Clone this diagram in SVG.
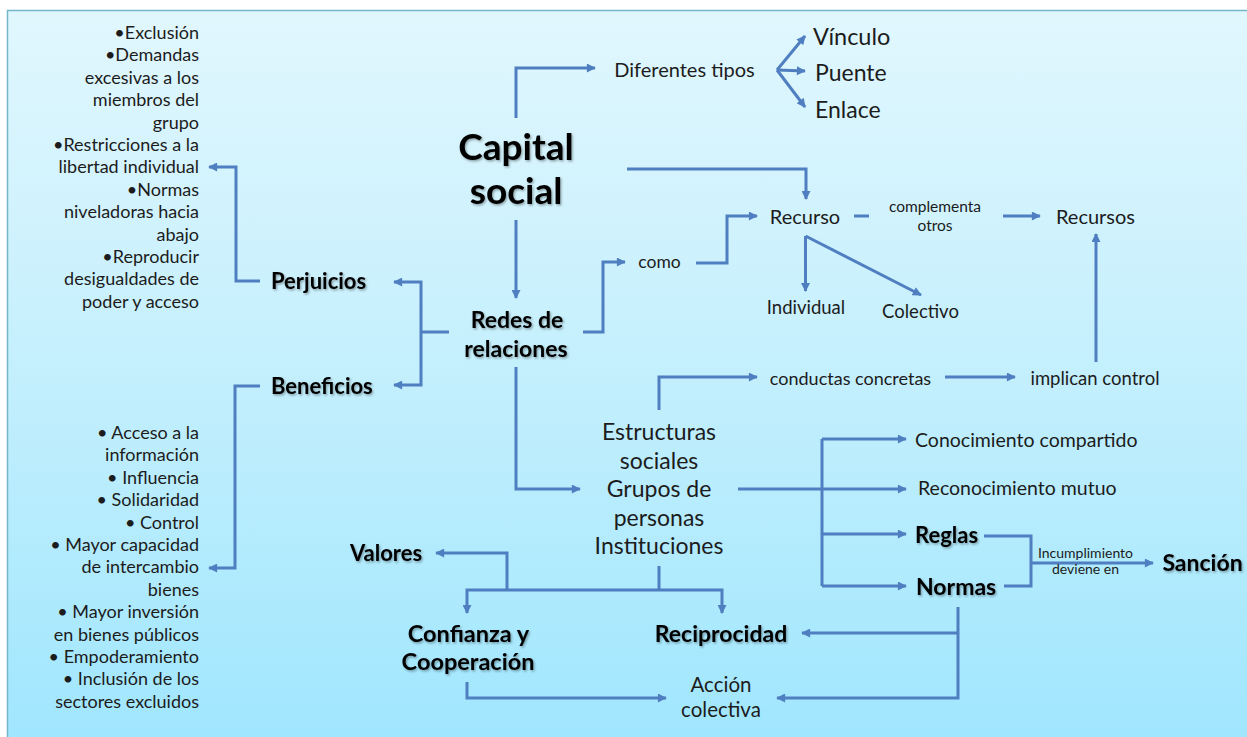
<svg xmlns="http://www.w3.org/2000/svg" width="1247" height="737" viewBox="0 0 1247 737">
<defs>
<linearGradient id="bg" x1="0" y1="0" x2="0" y2="1">
<stop offset="0" stop-color="#e1f7fe"/>
<stop offset="0.5" stop-color="#c3effd"/>
<stop offset="1" stop-color="#9fe6fe"/>
</linearGradient>
<marker id="ah" viewBox="0 0 10 10" refX="9" refY="5" markerWidth="10" markerHeight="9" markerUnits="userSpaceOnUse" orient="auto">
<path d="M0,0 L10,5 L0,10 Z" fill="#4f7fc0"/>
</marker>
<filter id="sh" x="-10%" y="-20%" width="130%" height="150%">
<feDropShadow dx="1.2" dy="1.5" stdDeviation="0.9" flood-color="#000" flood-opacity="0.35"/>
</filter>
</defs>
<style>
text{font-family:Lato,"Liberation Sans",sans-serif;fill:#1c1c1c}
.b{font-weight:bold;fill:#000;filter:url(#sh)}
.l{font-size:18px;text-anchor:end}
.m{text-anchor:middle}
.c path{fill:none;stroke:#4f7fc0;stroke-width:3}
.a{marker-end:url(#ah)}
</style>
<rect x="0" y="0" width="1247" height="737" fill="#ffffff"/>
<rect x="7.5" y="10.5" width="1260" height="740" fill="url(#bg)" stroke="#74b6ca" stroke-width="1.5"/>

<g class="c" id="connectors">
<path class="a" d="M516,118 V68 H595"/>
<path class="a" d="M777,70 L805,36"/>
<path class="a" d="M777,70 L805,71"/>
<path class="a" d="M777,70 L805,107"/>
<path class="a" d="M627,169 H806 V199"/>
<path class="a" d="M516,220 V298"/>
<path d="M449,332 H421"/>
<path class="a" d="M421,332 V282 H394"/>
<path class="a" d="M421,332 V385 H394"/>
<path class="a" d="M260,281 H236 V167 H209"/>
<path class="a" d="M260,386 H235 V568 H209"/>
<path class="a" d="M583,332 H603 V262 H625"/>
<path class="a" d="M696,263 H727 V216 H757"/>
<path d="M854,216 H869"/>
<path class="a" d="M1003,216 H1040"/>
<path class="a" d="M805.5,236 V291"/>
<path class="a" d="M805.5,236 L921,295"/>
<path class="a" d="M1096,362 V234"/>
<path class="a" d="M516,367 V489 H580"/>
<path class="a" d="M659,410 V377 H757"/>
<path class="a" d="M945,377 H1015"/>
<path class="a" d="M738,489 H906"/>
<path d="M822,439 V586"/>
<path class="a" d="M822,439 H906"/>
<path class="a" d="M822,534 H906"/>
<path class="a" d="M822,586 H906"/>
<path d="M984,536 H1031 V586 H1004"/>
<path class="a" d="M1031,563 H1153"/>
<path d="M659,566 V590"/>
<path class="a" d="M507,590 H467 V613"/>
<path class="a" d="M507,590 H722 V613"/>
<path class="a" d="M507,590 V553 H436"/>
<path class="a" d="M958,607 V698 H777"/>
<path class="a" d="M958,633 H802"/>
<path class="a" d="M467,682 V698 H666"/>
</g>

<g id="perjuicios-list">
<text class="l" x="199" y="39">•Exclusión</text>
<text class="l" x="199" y="61.4">•Demandas</text>
<text class="l" x="199" y="83.8">excesivas a los</text>
<text class="l" x="199" y="106.2">miembros del</text>
<text class="l" x="199" y="128.6">grupo</text>
<text class="l" x="199" y="151">•Restricciones a la</text>
<text class="l" x="199" y="173.4">libertad individual</text>
<text class="l" x="199" y="195.8">•Normas</text>
<text class="l" x="199" y="218.2">niveladoras hacia</text>
<text class="l" x="199" y="240.6">abajo</text>
<text class="l" x="199" y="263">•Reproducir</text>
<text class="l" x="199" y="285.4">desigualdades de</text>
<text class="l" x="199" y="307.8">poder y acceso</text>
</g>

<g id="beneficios-list">
<text class="l" x="199" y="439">• Acceso a la</text>
<text class="l" x="199" y="461.4">información</text>
<text class="l" x="199" y="483.8">• Influencia</text>
<text class="l" x="199" y="506.2">• Solidaridad</text>
<text class="l" x="199" y="528.6">• Control</text>
<text class="l" x="199" y="551">• Mayor capacidad</text>
<text class="l" x="199" y="573.4">de intercambio</text>
<text class="l" x="199" y="595.8">bienes</text>
<text class="l" x="199" y="618.2">• Mayor inversión</text>
<text class="l" x="199" y="640.6">en bienes públicos</text>
<text class="l" x="199" y="663">• Empoderamiento</text>
<text class="l" x="199" y="685.4">• Inclusión de los</text>
<text class="l" x="199" y="707.8">sectores excluidos</text>
</g>

<g id="capital"><text class="b m" x="516" y="160" font-size="37">Capital</text><text class="b m" x="516" y="204" font-size="37">social</text></g>
<g id="diferentes"><text class="m" x="684.5" y="77" font-size="20">Diferentes tipos</text></g>
<g id="vinculo"><text x="813" y="45" font-size="23.5">Vínculo</text></g>
<g id="puente"><text x="815" y="81" font-size="23">Puente</text></g>
<g id="enlace"><text x="815" y="118" font-size="23">Enlace</text></g>
<g id="recurso"><text class="m" x="805" y="224" font-size="20">Recurso</text></g>
<g id="complementa"><text class="m" x="935" y="212" font-size="15.5">complementa</text><text class="m" x="935" y="231" font-size="15.5">otros</text></g>
<g id="recursos"><text class="m" x="1095.5" y="224" font-size="20">Recursos</text></g>
<g id="como"><text class="m" x="659.5" y="268" font-size="17.5">como</text></g>
<g id="individual"><text class="m" x="806" y="313.5" font-size="18.5">Individual</text></g>
<g id="colectivo"><text class="m" x="920.5" y="317.5" font-size="18.5">Colectivo</text></g>
<g id="perjuicios"><text class="b" x="271" y="289" font-size="22">Perjuicios</text></g>
<g id="beneficios"><text class="b" x="271" y="394" font-size="22">Beneficios</text></g>
<g id="redes"><text class="b m" x="517" y="327.5" font-size="23">Redes de</text><text class="b m" x="516" y="356.5" font-size="23">relaciones</text></g>
<g id="conductas"><text class="m" x="850.5" y="384.5" font-size="18">conductas concretas</text></g>
<g id="implican"><text class="m" x="1095" y="384.5" font-size="18.5">implican control</text></g>
<g id="estructuras">
<text class="m" x="659" y="440" font-size="23">Estructuras</text>
<text class="m" x="659" y="468.5" font-size="23">sociales</text>
<text class="m" x="659" y="497" font-size="23">Grupos de</text>
<text class="m" x="659" y="525.5" font-size="23">personas</text>
<text class="m" x="659" y="554" font-size="23">Instituciones</text>
</g>
<g id="conocimiento"><text x="915" y="446.5" font-size="19.5">Conocimiento compartido</text></g>
<g id="reconocimiento"><text x="918" y="494.5" font-size="19.5">Reconocimiento mutuo</text></g>
<g id="reglas"><text class="b" x="915" y="543" font-size="22">Reglas</text></g>
<g id="normas"><text class="b" x="916" y="595" font-size="23">Normas</text></g>
<g id="incumplimiento"><text class="m" x="1085.5" y="557.5" font-size="14">Incumplimiento</text><text class="m" x="1085.5" y="574" font-size="14">deviene en</text></g>
<g id="sancion"><text class="b m" x="1202.5" y="571" font-size="23">Sanción</text></g>
<g id="valores"><text class="b m" x="386" y="561" font-size="22">Valores</text></g>
<g id="confianza"><text class="b m" x="468.5" y="641.5" font-size="23.5">Confianza y</text><text class="b m" x="468" y="669.5" font-size="23.5">Cooperación</text></g>
<g id="reciprocidad"><text class="b m" x="721" y="641.5" font-size="23">Reciprocidad</text></g>
<g id="accion"><text class="m" x="721" y="692" font-size="20.5">Acción</text><text class="m" x="721" y="717" font-size="20.5">colectiva</text></g>
</svg>
